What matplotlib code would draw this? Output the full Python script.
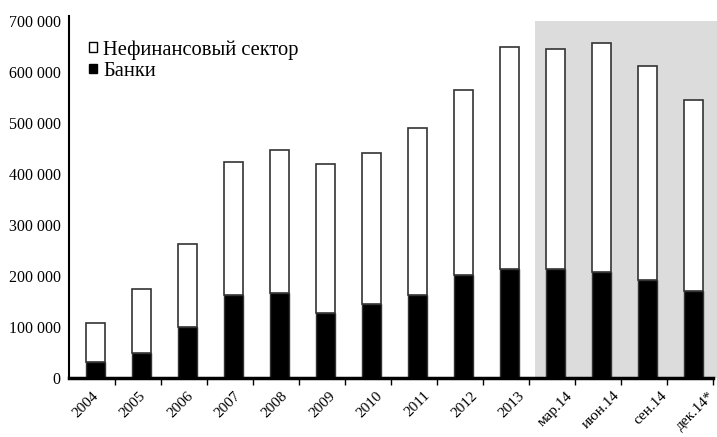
import matplotlib
matplotlib.use("Agg")
import matplotlib.pyplot as plt
from matplotlib.patches import Patch
from matplotlib.ticker import FuncFormatter
import numpy as np

categories = ["2004", "2005", "2006", "2007", "2008", "2009", "2010", "2011",
              "2012", "2013", "мар.14", "июн.14", "сен.14", "дек.14*"]
totals = [107000, 174000, 263000, 423000, 446000, 419000, 440000, 490000,
          564000, 648000, 644000, 656000, 612000, 545000]
banks = [32000, 49500, 100000, 163000, 166000, 126500, 144000, 162000,
         201500, 214000, 214000, 208000, 191000, 171000]
nonfin = [t - b for t, b in zip(totals, banks)]

plt.rcParams['font.family'] = ['Liberation Serif', 'DejaVu Serif']

fig = plt.figure(figsize=(7.17, 4.37), dpi=100)
ax = fig.add_axes([69/717, (437-378)/437, (713-69)/717, (378-15.5)/437])

n = len(categories)
x = np.arange(n)
ax.axvspan(9.555, 13.52, ymin=0, ymax=700000/710000, color="#dcdcdc", zorder=0, lw=0, clip_on=False)
w = 0.41
ax.bar(x, banks, w, color="black", edgecolor="#333333", lw=1, zorder=2)
ax.bar(x, nonfin, w, bottom=banks, color="white", edgecolor="#333333", lw=1.2, zorder=2)

ax.set_xlim(-0.575, n - 0.575)
ax.set_ylim(0, 710000)
ax.set_yticks(np.arange(0, 700001, 100000))
ax.yaxis.set_major_formatter(FuncFormatter(lambda v, p: f"{int(v):,}".replace(",", " ")))
ax.tick_params(axis="y", length=0, labelsize=11.5, pad=6)

ax.set_xticks(x + 0.425)
ax.set_xticklabels([])
label_pos = -0.08 + 1.03 * x
ax.set_xticks(label_pos, minor=True)
ax.set_xticklabels(categories, minor=True, rotation=45, ha="right", rotation_mode="anchor", fontsize=11)
ax.tick_params(axis="x", which="major", length=5, width=1, direction="out")
ax.tick_params(axis="x", which="minor", length=0, pad=8)

for s in ["top", "right"]:
    ax.spines[s].set_visible(False)
ax.spines["left"].set_linewidth(1.5)
ax.spines["bottom"].set_linewidth(2.5)
ax.patch.set_alpha(0)

handles = [Patch(facecolor="white", edgecolor="black", lw=1, label="Нефинансовый сектор"),
           Patch(facecolor="black", edgecolor="black", lw=1, label="Банки")]
ax.legend(handles=handles, loc="upper left", bbox_to_anchor=(0.018, 0.955), frameon=False,
          fontsize=14.8, handlelength=0.4, handleheight=0.32, handletextpad=0.3,
          labelspacing=0.1, borderaxespad=0)

fig.savefig("out.png", dpi=100)
